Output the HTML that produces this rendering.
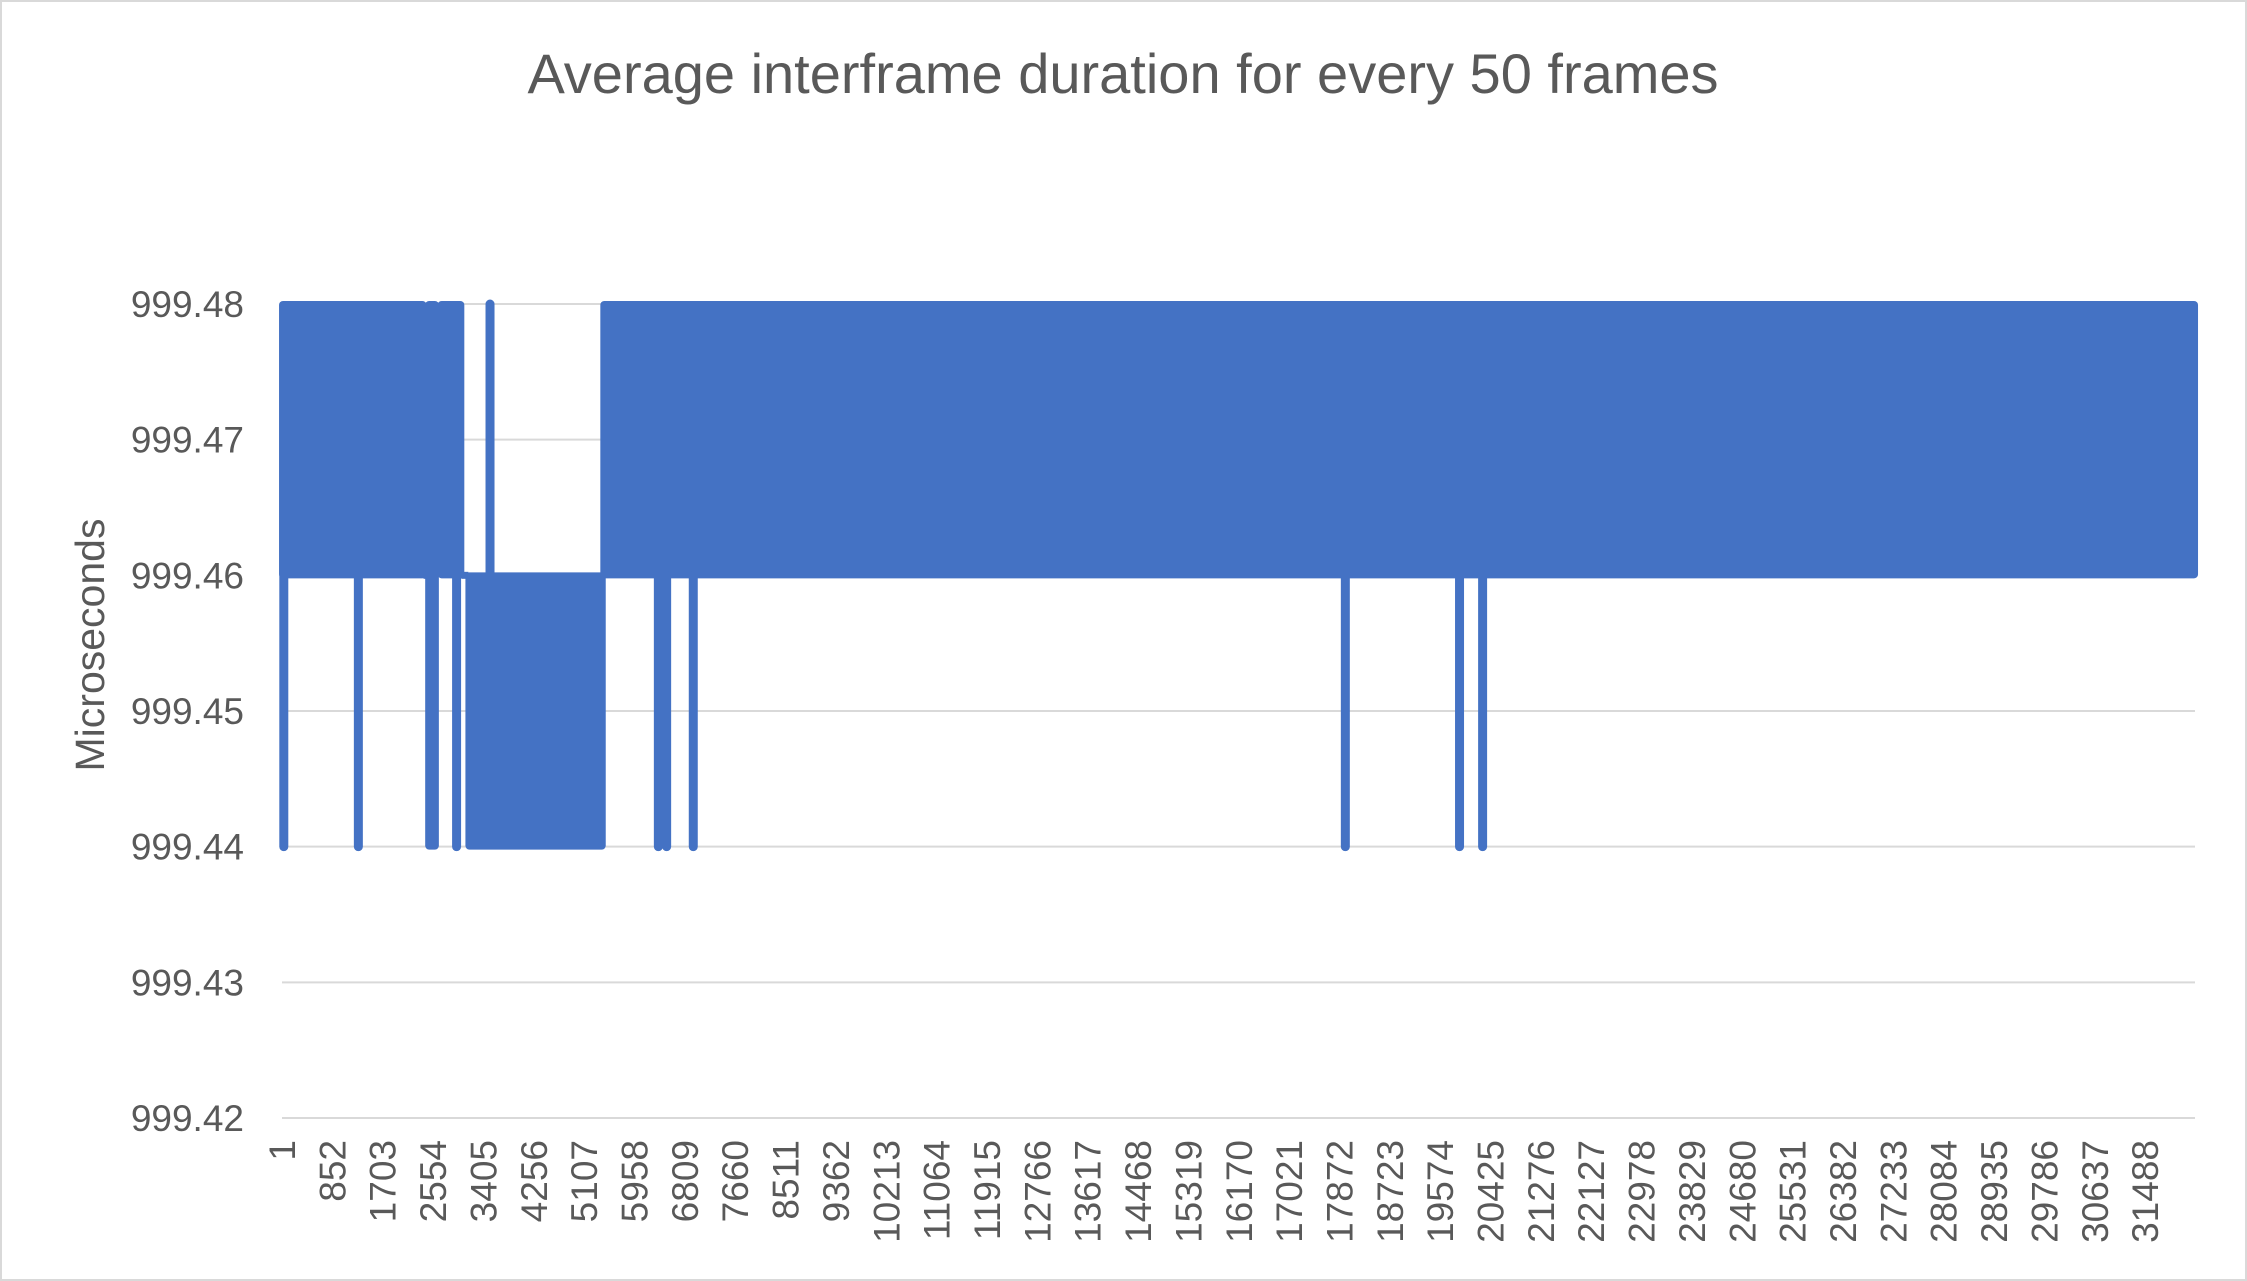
<!DOCTYPE html>
<html><head><meta charset="utf-8"><style>
html,body{margin:0;padding:0;background:#fff;}
svg{display:block;font-family:"Liberation Sans",sans-serif;}
</style></head><body>
<svg id="chart" width="2247" height="1281" viewBox="0 0 2247 1281">
<rect x="1" y="1" width="2245" height="1279" fill="#fff" stroke="#d9d9d9" stroke-width="2"/>
<text x="1123" y="93" text-anchor="middle" font-size="56" fill="#595959">Average interframe duration for every 50 frames</text>
<text transform="translate(104,645) rotate(-90)" text-anchor="middle" font-size="41" fill="#595959">Microseconds</text>
<g id="grid"></g><g id="ylabels"></g><g id="xlabels"></g><g id="marks"></g>
</svg>
<script>
const yTicks = [999.42, 999.43, 999.44, 999.45, 999.46, 999.47, 999.48];
const yTickLabels = ["999.42","999.43","999.44","999.45","999.46","999.47","999.48"];
const xTickLabels = ["1","852","1703","2554","3405","4256","5107","5958","6809","7660","8511","9362","10213","11064","11915","12766","13617","14468","15319","16170","17021","17872","18723","19574","20425","21276","22127","22978","23829","24680","25531","26382","27233","28084","28935","29786","30637","31488"];
const pointCount = 32330;
// dense oscillation bands: start index, end index, low value, high value
const bandStart = [0, 2470, 2680, 3150, 5430];
const bandEnd   = [2390, 2600, 3030, 5420, 32330];
const bandLow   = [999.46, 999.44, 999.46, 999.44, 999.46];
const bandHigh  = [999.48, 999.48, 999.48, 999.46, 999.48];
// isolated spikes: index, from value, to value
const spikeIdx  = [30, 1290, 2950, 3515, 6360, 6500, 6950, 17970, 19900, 20290];
const spikeFrom = [999.46, 999.46, 999.46, 999.46, 999.46, 999.46, 999.46, 999.46, 999.46, 999.46];
const spikeTo   = [999.44, 999.44, 999.44, 999.48, 999.44, 999.44, 999.44, 999.44, 999.44, 999.44];
// flat baseline runs
const flatStart = [2390, 3030];
const flatEnd   = [2470, 3150];
const flatVal   = [999.46, 999.46];

const NS="http://www.w3.org/2000/svg";
const L=282,R=2195,T=304,B=1118,yMin=999.42,yMax=999.48;
const xs=i=>L+(i+0.5)*(R-L)/pointCount;
const ys=v=>B-(v-yMin)/(yMax-yMin)*(B-T);
function mk(tag,attrs,parent){const e=document.createElementNS(NS,tag);for(const k in attrs)e.setAttribute(k,attrs[k]);document.getElementById(parent).appendChild(e);return e;}
yTicks.forEach((v,i)=>{
  const g=mk('line',{x1:L,x2:R,y1:ys(v),y2:ys(v),stroke:'#d9d9d9','stroke-width':2},'grid');
  
  
  const t=mk('text',{x:244,y:ys(v)+13,'text-anchor':'end','font-size':37,fill:'#595959'},'ylabels');
  t.textContent=yTickLabels[i];
  
  
});
xTickLabels.forEach((s,k)=>{
  const idx=+s-1;const x=xs(idx)+13;
  const t=mk('text',{transform:`translate(${x},1140) rotate(-90)`,'text-anchor':'end','font-size':37,fill:'#595959'},'xlabels');
  t.textContent=s;
  
  
});
const C='#4472C4';
bandStart.forEach((s,i)=>{
  const x1=xs(s),x2=xs(bandEnd[i]),y1=ys(bandHigh[i]),y2=ys(bandLow[i]);
  const r=mk('rect',{x:x1-3,y:y1-3,width:x2-x1+6,height:y2-y1+6,rx:4,fill:C},'marks');
  
  
});
flatStart.forEach((s,i)=>{
  const l=mk('line',{x1:xs(s),x2:xs(flatEnd[i]),y1:ys(flatVal[i]),y2:ys(flatVal[i]),stroke:C,'stroke-width':7},'marks');
  
  
});
spikeIdx.forEach((s,i)=>{
  const l=mk('line',{x1:xs(s),x2:xs(s),y1:ys(spikeFrom[i]),y2:ys(spikeTo[i]),stroke:C,'stroke-width':9,'stroke-linecap':'round'},'marks');
  
  
});
</script>
</body></html>
